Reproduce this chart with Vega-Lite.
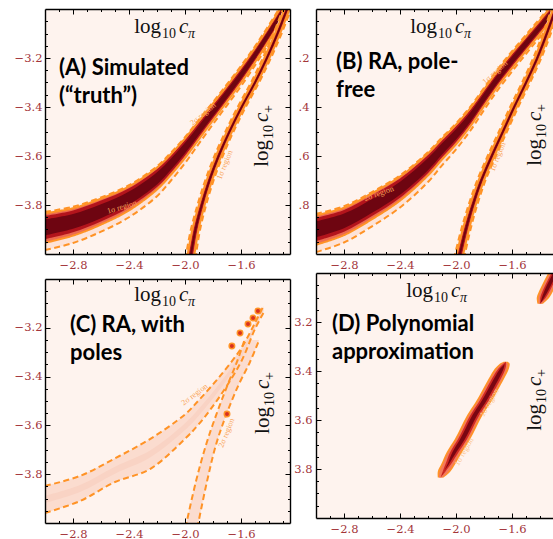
{
"$schema": "https://vega.github.io/schema/vega-lite/v6.json",
"background": "white",
"padding": {"left": 14, "top": 8, "right": 0, "bottom": 0},
"config": {
  "view": {"stroke": null, "fill": "#fef3ee"},
  "axis": {"grid": false, "domainColor": "#000", "domainWidth": 1.4, "tickColor": "#000", "tickWidth": 1, "labelColor": "#a3353a", "labelFont": "DejaVu Serif", "labelFontSize": 11.5, "labelFlush": false, "labelOverlap": false},
  "legend": {"disable": true}
},
"datasets": {
  "one": [{}],
  "api": [
    {"x":-3.0,"hi2":-3.828,"hi1":-3.834,"him":-3.844,"hi0":-3.859,"lo0":-3.924,"lom":-3.939,"lo1":-3.954,"lo2":-3.984},
    {"x":-2.8,"hi2":-3.807,"hi1":-3.813,"him":-3.822,"hi0":-3.837,"lo0":-3.897,"lom":-3.911,"lo1":-3.925,"lo2":-3.955},
    {"x":-2.6,"hi2":-3.769,"hi1":-3.774,"him":-3.782,"hi0":-3.797,"lo0":-3.854,"lom":-3.867,"lo1":-3.880,"lo2":-3.909},
    {"x":-2.4,"hi2":-3.719,"hi1":-3.724,"him":-3.732,"hi0":-3.745,"lo0":-3.798,"lom":-3.810,"lo1":-3.822,"lo2":-3.850},
    {"x":-2.2,"hi2":-3.642,"hi1":-3.647,"him":-3.654,"hi0":-3.666,"lo0":-3.716,"lom":-3.727,"lo1":-3.737,"lo2":-3.764},
    {"x":-2.1,"hi2":-3.586,"hi1":-3.592,"him":-3.599,"hi0":-3.610,"lo0":-3.656,"lom":-3.667,"lo1":-3.676,"lo2":-3.700},
    {"x":-2.0,"hi2":-3.523,"hi1":-3.528,"him":-3.535,"hi0":-3.546,"lo0":-3.589,"lom":-3.599,"lo1":-3.608,"lo2":-3.629},
    {"x":-1.9,"hi2":-3.451,"hi1":-3.457,"him":-3.464,"hi0":-3.474,"lo0":-3.513,"lom":-3.522,"lo1":-3.531,"lo2":-3.549},
    {"x":-1.8,"hi2":-3.380,"hi1":-3.386,"him":-3.392,"hi0":-3.402,"lo0":-3.438,"lom":-3.446,"lo1":-3.454,"lo2":-3.470},
    {"x":-1.7,"hi2":-3.307,"hi1":-3.314,"him":-3.320,"hi0":-3.329,"lo0":-3.363,"lom":-3.371,"lo1":-3.378,"lo2":-3.393},
    {"x":-1.6,"hi2":-3.232,"hi1":-3.239,"him":-3.245,"hi0":-3.254,"lo0":-3.286,"lom":-3.294,"lo1":-3.301,"lo2":-3.315},
    {"x":-1.5,"hi2":-3.152,"hi1":-3.159,"him":-3.165,"hi0":-3.173,"lo0":-3.203,"lom":-3.211,"lo1":-3.217,"lo2":-3.230},
    {"x":-1.4,"hi2":-3.065,"hi1":-3.072,"him":-3.078,"hi0":-3.086,"lo0":-3.114,"lom":-3.122,"lo1":-3.128,"lo2":-3.140},
    {"x":-1.3,"hi2":-2.973,"hi1":-2.980,"him":-2.986,"hi0":-2.994,"lo0":-3.022,"lom":-3.030,"lo1":-3.036,"lo2":-3.048},
    {"x":-1.22,"hi2":-2.899,"hi1":-2.906,"him":-2.912,"hi0":-2.920,"lo0":-2.948,"lom":-2.956,"lo1":-2.962,"lo2":-2.974}
  ],
  "acp": [
    {"y":-4.02,"l2":-1.998,"l1":-1.986,"lm":-1.977,"l0":-1.969,"r0":-1.955,"rm":-1.947,"r1":-1.938,"r2":-1.926},
    {"y":-3.9,"l2":-1.958,"l1":-1.947,"lm":-1.939,"l0":-1.932,"r0":-1.918,"rm":-1.911,"r1":-1.903,"r2":-1.892},
    {"y":-3.8,"l2":-1.911,"l1":-1.900,"lm":-1.893,"l0":-1.886,"r0":-1.874,"rm":-1.867,"r1":-1.860,"r2":-1.849},
    {"y":-3.7,"l2":-1.856,"l1":-1.845,"lm":-1.838,"l0":-1.832,"r0":-1.820,"rm":-1.814,"r1":-1.807,"r2":-1.796},
    {"y":-3.6,"l2":-1.790,"l1":-1.779,"lm":-1.772,"l0":-1.766,"r0":-1.754,"rm":-1.748,"r1":-1.741,"r2":-1.730},
    {"y":-3.5,"l2":-1.711,"l1":-1.700,"lm":-1.694,"l0":-1.688,"r0":-1.676,"rm":-1.670,"r1":-1.664,"r2":-1.653},
    {"y":-3.4,"l2":-1.624,"l1":-1.613,"lm":-1.607,"l0":-1.601,"r0":-1.589,"rm":-1.583,"r1":-1.577,"r2":-1.566},
    {"y":-3.3,"l2":-1.529,"l1":-1.518,"lm":-1.512,"l0":-1.506,"r0":-1.494,"rm":-1.488,"r1":-1.482,"r2":-1.471},
    {"y":-3.2,"l2":-1.444,"l1":-1.433,"lm":-1.427,"l0":-1.421,"r0":-1.409,"rm":-1.403,"r1":-1.397,"r2":-1.386},
    {"y":-3.1,"l2":-1.368,"l1":-1.357,"lm":-1.351,"l0":-1.345,"r0":-1.333,"rm":-1.327,"r1":-1.321,"r2":-1.310},
    {"y":-3.0,"l2":-1.300,"l1":-1.289,"lm":-1.283,"l0":-1.277,"r0":-1.265,"rm":-1.259,"r1":-1.253,"r2":-1.242},
    {"y":-2.94,"l2":-1.259,"l1":-1.248,"lm":-1.242,"l0":-1.236,"r0":-1.224,"rm":-1.218,"r1":-1.212,"r2":-1.201}
  ],
  "bpi": [
    {"x":-3.0,"hi2":-3.836,"hi1":-3.842,"him":-3.852,"hi0":-3.867,"lo0":-3.932,"lom":-3.947,"lo1":-3.962,"lo2":-3.992},
    {"x":-2.8,"hi2":-3.805,"hi1":-3.811,"him":-3.820,"hi0":-3.835,"lo0":-3.895,"lom":-3.909,"lo1":-3.923,"lo2":-3.953},
    {"x":-2.6,"hi2":-3.747,"hi1":-3.752,"him":-3.760,"hi0":-3.775,"lo0":-3.832,"lom":-3.845,"lo1":-3.858,"lo2":-3.887},
    {"x":-2.4,"hi2":-3.679,"hi1":-3.684,"him":-3.692,"hi0":-3.705,"lo0":-3.758,"lom":-3.770,"lo1":-3.782,"lo2":-3.810},
    {"x":-2.2,"hi2":-3.584,"hi1":-3.589,"him":-3.596,"hi0":-3.608,"lo0":-3.658,"lom":-3.669,"lo1":-3.679,"lo2":-3.706},
    {"x":-2.1,"hi2":-3.524,"hi1":-3.530,"him":-3.537,"hi0":-3.548,"lo0":-3.594,"lom":-3.605,"lo1":-3.614,"lo2":-3.638},
    {"x":-2.0,"hi2":-3.467,"hi1":-3.472,"him":-3.479,"hi0":-3.490,"lo0":-3.533,"lom":-3.543,"lo1":-3.552,"lo2":-3.573},
    {"x":-1.9,"hi2":-3.400,"hi1":-3.406,"him":-3.413,"hi0":-3.423,"lo0":-3.462,"lom":-3.471,"lo1":-3.480,"lo2":-3.498},
    {"x":-1.8,"hi2":-3.322,"hi1":-3.328,"him":-3.334,"hi0":-3.344,"lo0":-3.380,"lom":-3.388,"lo1":-3.396,"lo2":-3.412},
    {"x":-1.7,"hi2":-3.243,"hi1":-3.250,"him":-3.256,"hi0":-3.265,"lo0":-3.299,"lom":-3.307,"lo1":-3.314,"lo2":-3.329},
    {"x":-1.6,"hi2":-3.172,"hi1":-3.179,"him":-3.185,"hi0":-3.194,"lo0":-3.226,"lom":-3.234,"lo1":-3.241,"lo2":-3.255},
    {"x":-1.5,"hi2":-3.105,"hi1":-3.112,"him":-3.118,"hi0":-3.126,"lo0":-3.156,"lom":-3.164,"lo1":-3.170,"lo2":-3.183},
    {"x":-1.4,"hi2":-3.038,"hi1":-3.045,"him":-3.051,"hi0":-3.059,"lo0":-3.087,"lom":-3.095,"lo1":-3.101,"lo2":-3.113},
    {"x":-1.3,"hi2":-2.968,"hi1":-2.975,"him":-2.981,"hi0":-2.989,"lo0":-3.017,"lom":-3.025,"lo1":-3.031,"lo2":-3.043},
    {"x":-1.22,"hi2":-2.911,"hi1":-2.918,"him":-2.924,"hi0":-2.932,"lo0":-2.960,"lom":-2.968,"lo1":-2.974,"lo2":-2.986}
  ],
  "bcp": [
    {"y":-4.02,"l2":-2.016,"l1":-2.004,"lm":-1.995,"l0":-1.987,"r0":-1.973,"rm":-1.965,"r1":-1.956,"r2":-1.944},
    {"y":-3.9,"l2":-1.963,"l1":-1.952,"lm":-1.944,"l0":-1.937,"r0":-1.923,"rm":-1.916,"r1":-1.908,"r2":-1.897},
    {"y":-3.8,"l2":-1.911,"l1":-1.900,"lm":-1.893,"l0":-1.886,"r0":-1.874,"rm":-1.867,"r1":-1.860,"r2":-1.849},
    {"y":-3.7,"l2":-1.850,"l1":-1.839,"lm":-1.832,"l0":-1.826,"r0":-1.814,"rm":-1.808,"r1":-1.801,"r2":-1.790},
    {"y":-3.6,"l2":-1.775,"l1":-1.764,"lm":-1.757,"l0":-1.751,"r0":-1.739,"rm":-1.733,"r1":-1.726,"r2":-1.715},
    {"y":-3.5,"l2":-1.694,"l1":-1.683,"lm":-1.677,"l0":-1.671,"r0":-1.659,"rm":-1.653,"r1":-1.647,"r2":-1.636},
    {"y":-3.4,"l2":-1.614,"l1":-1.603,"lm":-1.597,"l0":-1.591,"r0":-1.579,"rm":-1.573,"r1":-1.567,"r2":-1.556},
    {"y":-3.3,"l2":-1.529,"l1":-1.518,"lm":-1.512,"l0":-1.506,"r0":-1.494,"rm":-1.488,"r1":-1.482,"r2":-1.471},
    {"y":-3.2,"l2":-1.449,"l1":-1.438,"lm":-1.432,"l0":-1.426,"r0":-1.414,"rm":-1.408,"r1":-1.402,"r2":-1.391},
    {"y":-3.1,"l2":-1.381,"l1":-1.370,"lm":-1.364,"l0":-1.358,"r0":-1.346,"rm":-1.340,"r1":-1.334,"r2":-1.323},
    {"y":-3.0,"l2":-1.319,"l1":-1.308,"lm":-1.302,"l0":-1.296,"r0":-1.284,"rm":-1.278,"r1":-1.272,"r2":-1.261},
    {"y":-2.94,"l2":-1.284,"l1":-1.273,"lm":-1.267,"l0":-1.261,"r0":-1.249,"rm":-1.243,"r1":-1.237,"r2":-1.226}
  ],
  "cpi": [
    {"x":-3.0,"u":-3.848,"cu":-3.888,"cl":-3.918,"lo":-3.959},
    {"x":-2.75,"u":-3.807,"cu":-3.844,"cl":-3.873,"lo":-3.910},
    {"x":-2.5,"u":-3.735,"cu":-3.769,"cl":-3.798,"lo":-3.832},
    {"x":-2.25,"u":-3.656,"cu":-3.703,"cl":-3.732,"lo":-3.779},
    {"x":-2.0,"u":-3.555,"cu":-3.591,"cl":-3.619,"lo":-3.655},
    {"x":-1.9,"u":-3.496,"cu":-3.531,"cl":-3.559,"lo":-3.594},
    {"x":-1.75,"u":-3.398,"cu":-3.426,"cl":-3.452,"lo":-3.480},
    {"x":-1.6,"u":-3.285,"cu":-3.302,"cl":-3.323,"lo":-3.340},
    {"x":-1.5,"u":-3.180,"cu":-3.186,"cl":-3.199,"lo":-3.205},
    {"x":-1.44,"u":-3.111,"cu":-3.120,"cl":-3.130,"lo":-3.139}
  ],
  "ccp": [
    {"y":-4.02,"l":-1.997,"r":-1.912},
    {"y":-3.83,"l":-1.922,"r":-1.843},
    {"y":-3.68,"l":-1.850,"r":-1.779},
    {"y":-3.56,"l":-1.779,"r":-1.708},
    {"y":-3.44,"l":-1.700,"r":-1.622},
    {"y":-3.34,"l":-1.629,"r":-1.536},
    {"y":-3.25,"l":-1.575,"r":-1.470}
  ],
  "cdots": [
    {"x":-1.700,"y":-3.553},
    {"x":-1.665,"y":-3.275},
    {"x":-1.607,"y":-3.221},
    {"x":-1.550,"y":-3.184},
    {"x":-1.514,"y":-3.160},
    {"x":-1.479,"y":-3.131}
  ],
  "dband": [
    {"y":-3.835,"l1":-2.130,"lp":-2.122,"lm":-2.110,"l0":-2.110,"r0":-2.110,"rm":-2.110,"rp":-2.098,"r1":-2.090},
    {"y":-3.81,"l1":-2.130,"lp":-2.115,"lm":-2.095,"l0":-2.085,"r0":-2.085,"rm":-2.075,"rp":-2.055,"r1":-2.040},
    {"y":-3.78,"l1":-2.105,"lp":-2.093,"lm":-2.075,"l0":-2.060,"r0":-2.050,"rm":-2.035,"rp":-2.017,"r1":-2.005},
    {"y":-3.73,"l1":-2.065,"lp":-2.052,"lm":-2.040,"l0":-2.024,"r0":-1.996,"rm":-1.980,"rp":-1.968,"r1":-1.955},
    {"y":-3.68,"l1":-2.010,"lp":-1.997,"lm":-1.987,"l0":-1.972,"r0":-1.938,"rm":-1.923,"rp":-1.913,"r1":-1.900},
    {"y":-3.63,"l1":-1.965,"lp":-1.952,"lm":-1.942,"l0":-1.927,"r0":-1.893,"rm":-1.878,"rp":-1.868,"r1":-1.855},
    {"y":-3.58,"l1":-1.920,"lp":-1.907,"lm":-1.897,"l0":-1.882,"r0":-1.848,"rm":-1.833,"rp":-1.823,"r1":-1.810},
    {"y":-3.53,"l1":-1.863,"lp":-1.850,"lm":-1.840,"l0":-1.825,"r0":-1.791,"rm":-1.776,"rp":-1.766,"r1":-1.753},
    {"y":-3.48,"l1":-1.813,"lp":-1.800,"lm":-1.790,"l0":-1.775,"r0":-1.741,"rm":-1.726,"rp":-1.716,"r1":-1.703},
    {"y":-3.43,"l1":-1.765,"lp":-1.752,"lm":-1.742,"l0":-1.727,"r0":-1.693,"rm":-1.678,"rp":-1.668,"r1":-1.655},
    {"y":-3.39,"l1":-1.722,"lp":-1.707,"lm":-1.697,"l0":-1.684,"r0":-1.660,"rm":-1.647,"rp":-1.637,"r1":-1.622},
    {"y":-3.37,"l1":-1.687,"lp":-1.672,"lm":-1.662,"l0":-1.652,"r0":-1.652,"rm":-1.642,"rp":-1.632,"r1":-1.617},
    {"y":-3.362,"l1":-1.660,"lp":-1.645,"lm":-1.645,"l0":-1.645,"r0":-1.645,"rm":-1.645,"rp":-1.645,"r1":-1.630}
  ],
  "dtop": [
    {"y":-3.125,"l1":-1.418,"lp":-1.408,"lm":-1.398,"l0":-1.398,"r0":-1.398,"rm":-1.398,"rp":-1.388,"r1":-1.378},
    {"y":-3.10,"l1":-1.423,"lp":-1.410,"lm":-1.398,"l0":-1.386,"r0":-1.370,"rm":-1.358,"rp":-1.346,"r1":-1.333},
    {"y":-3.06,"l1":-1.395,"lp":-1.383,"lm":-1.371,"l0":-1.359,"r0":-1.331,"rm":-1.319,"rp":-1.307,"r1":-1.295},
    {"y":-3.0,"l1":-1.342,"lp":-1.330,"lm":-1.318,"l0":-1.306,"r0":-1.278,"rm":-1.266,"rp":-1.254,"r1":-1.242},
    {"y":-2.96,"l1":-1.310,"lp":-1.298,"lm":-1.286,"l0":-1.274,"r0":-1.246,"rm":-1.234,"rp":-1.222,"r1":-1.210}
  ]
},
"hconcat": [
{"spacing": 7, "vconcat": [
{
  "width": 245, "height": 245,
  "resolve": {"axis": {"x": "independent", "y": "independent"}},
  "layer": [
    {"data": {"name": "api"}, "mark": {"type": "area", "clip": true, "color": "#fde3d8", "interpolate": "catmull-rom"},
     "encoding": {"x": {"field": "x", "type": "quantitative", "scale": {"domain": [-3, -1.25], "nice": false, "zero": false},
                        "axis": {"orient": "bottom", "values": [-2.8, -2.4, -2.0, -1.6], "format": ".1f", "tickSize": -5, "labelPadding": 10, "title": null, "zindex": 1}},
                  "y": {"field": "lo2", "type": "quantitative", "scale": {"domain": [-4, -3], "nice": false, "zero": false},
                        "axis": {"orient": "left", "values": [-3.8, -3.6, -3.4, -3.2], "format": ".1f", "tickSize": -5, "labelPadding": 8, "title": null, "zindex": 1}},
                  "y2": {"field": "hi2"}}},
    {"data": {"name": "api"}, "mark": {"type": "area", "clip": true, "color": "#ec6a50", "interpolate": "catmull-rom"},
     "encoding": {"x": {"field": "x", "type": "quantitative", "axis": {"orient": "bottom", "values": [-2.9,-2.7,-2.6,-2.5,-2.3,-2.2,-2.1,-1.9,-1.8,-1.7,-1.5,-1.4,-1.3], "tickSize": -2.5, "labels": false, "domain": false, "title": null, "zindex": 1}},
                  "y": {"field": "lo1", "type": "quantitative", "axis": {"orient": "left", "values": [-3.95,-3.9,-3.85,-3.75,-3.7,-3.65,-3.55,-3.5,-3.45,-3.35,-3.3,-3.25,-3.15,-3.1,-3.05], "tickSize": -2.5, "labels": false, "domain": false, "title": null, "zindex": 1}},
                  "y2": {"field": "hi1"}}},
    {"data": {"name": "api"}, "mark": {"type": "area", "clip": true, "color": "#b3141c", "interpolate": "catmull-rom"},
     "encoding": {"x": {"field": "x", "type": "quantitative", "axis": {"orient": "top", "values": [-2.8, -2.4, -2.0, -1.6], "tickSize": -5, "labels": false, "title": null, "zindex": 1}},
                  "y": {"field": "lom", "type": "quantitative", "axis": {"orient": "right", "values": [-3.8, -3.6, -3.4, -3.2], "tickSize": -5, "labels": false, "title": null, "zindex": 1}},
                  "y2": {"field": "him"}}},
    {"data": {"name": "api"}, "mark": {"type": "area", "clip": true, "color": "#6e0511", "interpolate": "catmull-rom"},
     "encoding": {"x": {"field": "x", "type": "quantitative", "axis": {"orient": "top", "values": [-2.9,-2.7,-2.6,-2.5,-2.3,-2.2,-2.1,-1.9,-1.8,-1.7,-1.5,-1.4,-1.3], "tickSize": -2.5, "labels": false, "domain": false, "title": null, "zindex": 1}},
                  "y": {"field": "lo0", "type": "quantitative", "axis": {"orient": "right", "values": [-3.95,-3.9,-3.85,-3.75,-3.7,-3.65,-3.55,-3.5,-3.45,-3.35,-3.3,-3.25,-3.15,-3.1,-3.05], "tickSize": -2.5, "labels": false, "domain": false, "title": null, "zindex": 1}},
                  "y2": {"field": "hi0"}}},
    {"data": {"name": "api"}, "transform": [{"fold": ["hi2", "lo2", "hi1", "lo1"], "as": ["edge", "v"]}],
     "mark": {"type": "line", "clip": true, "color": "#ff9326", "strokeWidth": 2, "interpolate": "catmull-rom"},
     "encoding": {"x": {"field": "x", "type": "quantitative", "axis": null}, "y": {"field": "v", "type": "quantitative", "axis": null}, "detail": {"field": "edge"},
                  "strokeDash": {"field": "edge", "type": "nominal", "scale": {"domain": ["hi2","lo2","hi1","lo1","l2","r2","l1","r1"], "range": [[6,3.5],[6,3.5],[1,0],[1,0],[6,3.5],[6,3.5],[1,0],[1,0]]}, "legend": null}}},
    {"data": {"name": "acp"}, "mark": {"type": "area", "orient": "horizontal", "clip": true, "color": "#fde3d8", "interpolate": "catmull-rom"},
     "encoding": {"y": {"field": "y", "type": "quantitative", "axis": null}, "x": {"field": "l2", "type": "quantitative", "axis": null}, "x2": {"field": "r2"}}},
    {"data": {"name": "acp"}, "mark": {"type": "area", "orient": "horizontal", "clip": true, "color": "#ec6a50", "interpolate": "catmull-rom"},
     "encoding": {"y": {"field": "y", "type": "quantitative", "axis": null}, "x": {"field": "l1", "type": "quantitative", "axis": null}, "x2": {"field": "r1"}}},
    {"data": {"name": "acp"}, "mark": {"type": "area", "orient": "horizontal", "clip": true, "color": "#b3141c", "interpolate": "catmull-rom"},
     "encoding": {"y": {"field": "y", "type": "quantitative", "axis": null}, "x": {"field": "lm", "type": "quantitative", "axis": null}, "x2": {"field": "rm"}}},
    {"data": {"name": "acp"}, "mark": {"type": "area", "orient": "horizontal", "clip": true, "color": "#6e0511", "interpolate": "catmull-rom"},
     "encoding": {"y": {"field": "y", "type": "quantitative", "axis": null}, "x": {"field": "l0", "type": "quantitative", "axis": null}, "x2": {"field": "r0"}}},
    {"data": {"name": "acp"}, "transform": [{"fold": ["l2", "r2", "l1", "r1"], "as": ["edge", "v"]}],
     "mark": {"type": "line", "clip": true, "color": "#ff9326", "strokeWidth": 2, "interpolate": "catmull-rom"},
     "encoding": {"y": {"field": "y", "type": "quantitative", "axis": null}, "x": {"field": "v", "type": "quantitative", "axis": null}, "order": {"field": "y", "type": "quantitative"}, "detail": {"field": "edge"},
                  "strokeDash": {"field": "edge", "type": "nominal", "scale": {"domain": ["hi2","lo2","hi1","lo1","l2","r2","l1","r1"], "range": [[6,3.5],[6,3.5],[1,0],[1,0],[6,3.5],[6,3.5],[1,0],[1,0]]}, "legend": null}}},
    {"data": {"name": "one"}, "mark": {"type": "text", "text": "1σ region", "font": "Liberation Serif", "fontSize": 8, "angle": 343, "color": "#f9a55a", "align": "center", "baseline": "middle"},
     "encoding": {"x": {"datum": -2.45, "axis": null}, "y": {"datum": -3.81, "axis": null}}},
    {"data": {"name": "one"}, "mark": {"type": "text", "text": "2σ region", "font": "Liberation Serif", "fontSize": 8, "angle": 320, "color": "#f9a55a", "align": "center", "baseline": "middle"},
     "encoding": {"x": {"datum": -1.87, "axis": null}, "y": {"datum": -3.43, "axis": null}}},
    {"data": {"name": "one"}, "mark": {"type": "text", "text": "1σ region", "font": "Liberation Serif", "fontSize": 8, "angle": 292, "color": "#f9a55a", "align": "center", "baseline": "middle"},
     "encoding": {"x": {"datum": -1.714, "axis": null}, "y": {"datum": -3.637, "axis": null}}},
    {"data": {"name": "one"}, "mark": {"type": "text", "text": ["(A) Simulated", "(“truth”)"], "font": "Lato", "fontWeight": "bold", "fontSize": 22, "lineHeight": 28, "align": "left", "baseline": "alphabetic", "color": "#000"},
     "encoding": {"x": {"datum": -2.9, "axis": null}, "y": {"datum": -3.269, "axis": null}}},
    {"data": {"name": "one"}, "mark": {"type": "text", "text": "log", "font": "Liberation Serif", "fontSize": 21, "align": "right", "baseline": "alphabetic", "dx": -18, "color": "#111"},
     "encoding": {"x": {"datum": -2.043, "axis": null}, "y": {"datum": -3.098, "axis": null}}},
    {"data": {"name": "one"}, "mark": {"type": "text", "text": "10", "font": "Liberation Serif", "fontSize": 14, "align": "right", "baseline": "alphabetic", "dx": -3, "dy": 5, "color": "#111"},
     "encoding": {"x": {"datum": -2.043, "axis": null}, "y": {"datum": -3.098, "axis": null}}},
    {"data": {"name": "one"}, "mark": {"type": "text", "text": "c", "font": "Liberation Serif", "fontStyle": "italic", "fontSize": 21, "align": "left", "baseline": "alphabetic", "color": "#111"},
     "encoding": {"x": {"datum": -2.043, "axis": null}, "y": {"datum": -3.098, "axis": null}}},
    {"data": {"name": "one"}, "mark": {"type": "text", "text": "π", "font": "Liberation Serif", "fontStyle": "italic", "fontSize": 14, "align": "left", "baseline": "alphabetic", "dx": 9, "dy": 5, "color": "#111"},
     "encoding": {"x": {"datum": -2.043, "axis": null}, "y": {"datum": -3.098, "axis": null}}},
    {"data": {"name": "one"}, "mark": {"type": "text", "text": "log", "font": "Liberation Serif", "fontSize": 21, "align": "right", "baseline": "alphabetic", "angle": 270, "dx": -18, "color": "#111"},
     "encoding": {"x": {"datum": -1.408, "axis": null}, "y": {"datum": -3.461, "axis": null}}},
    {"data": {"name": "one"}, "mark": {"type": "text", "text": "10", "font": "Liberation Serif", "fontSize": 14, "align": "right", "baseline": "alphabetic", "angle": 270, "dx": -3, "dy": 5, "color": "#111"},
     "encoding": {"x": {"datum": -1.408, "axis": null}, "y": {"datum": -3.461, "axis": null}}},
    {"data": {"name": "one"}, "mark": {"type": "text", "text": "c", "font": "Liberation Serif", "fontStyle": "italic", "fontSize": 21, "align": "left", "baseline": "alphabetic", "angle": 270, "color": "#111"},
     "encoding": {"x": {"datum": -1.408, "axis": null}, "y": {"datum": -3.461, "axis": null}}},
    {"data": {"name": "one"}, "mark": {"type": "text", "text": "+", "font": "Liberation Serif", "fontSize": 14, "align": "left", "baseline": "alphabetic", "angle": 270, "dx": 9, "dy": 5, "color": "#111"},
     "encoding": {"x": {"datum": -1.408, "axis": null}, "y": {"datum": -3.461, "axis": null}}}
  ]
},
{
  "width": 245, "height": 244,
  "resolve": {"axis": {"x": "independent", "y": "independent"}},
  "layer": [
    {"data": {"name": "cpi"}, "mark": {"type": "area", "clip": true, "color": "#fbdccf", "interpolate": "catmull-rom"},
     "encoding": {"x": {"field": "x", "type": "quantitative", "scale": {"domain": [-3, -1.25], "nice": false, "zero": false},
                        "axis": {"orient": "bottom", "values": [-2.8, -2.4, -2.0, -1.6], "format": ".1f", "tickSize": -5, "labelPadding": 10, "title": null, "zindex": 1}},
                  "y": {"field": "lo", "type": "quantitative", "scale": {"domain": [-4, -3], "nice": false, "zero": false},
                        "axis": {"orient": "left", "values": [-3.8, -3.6, -3.4, -3.2], "format": ".1f", "tickSize": -5, "labelPadding": 8, "title": null, "zindex": 1}},
                  "y2": {"field": "u"}}},
    {"data": {"name": "ccp"}, "mark": {"type": "area", "orient": "horizontal", "clip": true, "color": "#fbdccf", "interpolate": "catmull-rom"},
     "encoding": {"y": {"field": "y", "type": "quantitative", "axis": {"orient": "left", "values": [-3.95,-3.9,-3.85,-3.75,-3.7,-3.65,-3.55,-3.5,-3.45,-3.35,-3.3,-3.25,-3.15,-3.1,-3.05], "tickSize": -2.5, "labels": false, "domain": false, "title": null, "zindex": 1}},
                  "x": {"field": "l", "type": "quantitative", "axis": {"orient": "bottom", "values": [-2.9,-2.7,-2.6,-2.5,-2.3,-2.2,-2.1,-1.9,-1.8,-1.7,-1.5,-1.4,-1.3], "tickSize": -2.5, "labels": false, "domain": false, "title": null, "zindex": 1}},
                  "x2": {"field": "r"}}},
    {"data": {"name": "cpi"}, "mark": {"type": "area", "clip": true, "color": "#f9d3c4", "interpolate": "catmull-rom"},
     "encoding": {"x": {"field": "x", "type": "quantitative", "axis": null}, "y": {"field": "cl", "type": "quantitative", "axis": null}, "y2": {"field": "cu"}}},
    {"data": {"name": "cpi"}, "transform": [{"fold": ["u", "lo"], "as": ["edge", "v"]}],
     "mark": {"type": "line", "clip": true, "color": "#ff9326", "strokeWidth": 2, "strokeDash": [6, 3.5], "interpolate": "catmull-rom"},
     "encoding": {"x": {"field": "x", "type": "quantitative", "axis": {"orient": "top", "values": [-2.8, -2.4, -2.0, -1.6], "tickSize": -5, "labels": false, "title": null, "zindex": 1}},
                  "y": {"field": "v", "type": "quantitative", "axis": {"orient": "right", "values": [-3.8, -3.6, -3.4, -3.2], "tickSize": -5, "labels": false, "title": null, "zindex": 1}},
                  "detail": {"field": "edge"}}},
    {"data": {"name": "ccp"}, "transform": [{"fold": ["l", "r"], "as": ["edge", "v"]}],
     "mark": {"type": "line", "clip": true, "color": "#ff9326", "strokeWidth": 2, "strokeDash": [6, 3.5], "interpolate": "catmull-rom"},
     "encoding": {"y": {"field": "y", "type": "quantitative", "axis": {"orient": "right", "values": [-3.95,-3.9,-3.85,-3.75,-3.7,-3.65,-3.55,-3.5,-3.45,-3.35,-3.3,-3.25,-3.15,-3.1,-3.05], "tickSize": -2.5, "labels": false, "domain": false, "title": null, "zindex": 1}},
                  "x": {"field": "v", "type": "quantitative", "axis": {"orient": "top", "values": [-2.9,-2.7,-2.6,-2.5,-2.3,-2.2,-2.1,-1.9,-1.8,-1.7,-1.5,-1.4,-1.3], "tickSize": -2.5, "labels": false, "domain": false, "title": null, "zindex": 1}},
                  "order": {"field": "y", "type": "quantitative"}, "detail": {"field": "edge"}}},
    {"data": {"name": "cdots"}, "mark": {"type": "circle", "clip": true, "size": 30, "color": "#d8301f", "opacity": 1, "stroke": "#ff9326", "strokeWidth": 1.5},
     "encoding": {"x": {"field": "x", "type": "quantitative", "axis": null}, "y": {"field": "y", "type": "quantitative", "axis": null}}},
    {"data": {"name": "one"}, "mark": {"type": "text", "text": "2σ region", "font": "Liberation Serif", "fontSize": 8, "angle": 323, "color": "#f9a55a", "align": "center", "baseline": "middle"},
     "encoding": {"x": {"datum": -1.93, "axis": null}, "y": {"datum": -3.475, "axis": null}}},
    {"data": {"name": "one"}, "mark": {"type": "text", "text": "2σ region", "font": "Liberation Serif", "fontSize": 8, "angle": 292, "color": "#f9a55a", "align": "center", "baseline": "middle"},
     "encoding": {"x": {"datum": -1.70, "axis": null}, "y": {"datum": -3.631, "axis": null}}},
    {"data": {"name": "one"}, "mark": {"type": "text", "text": ["(C) RA, with", "poles"], "font": "Lato", "fontWeight": "bold", "fontSize": 22, "lineHeight": 28, "align": "left", "baseline": "alphabetic", "color": "#000"},
     "encoding": {"x": {"datum": -2.821, "axis": null}, "y": {"datum": -3.217, "axis": null}}},
    {"data": {"name": "one"}, "mark": {"type": "text", "text": "log", "font": "Liberation Serif", "fontSize": 21, "align": "right", "baseline": "alphabetic", "dx": -18, "color": "#111"},
     "encoding": {"x": {"datum": -2.043, "axis": null}, "y": {"datum": -3.09, "axis": null}}},
    {"data": {"name": "one"}, "mark": {"type": "text", "text": "10", "font": "Liberation Serif", "fontSize": 14, "align": "right", "baseline": "alphabetic", "dx": -3, "dy": 5, "color": "#111"},
     "encoding": {"x": {"datum": -2.043, "axis": null}, "y": {"datum": -3.09, "axis": null}}},
    {"data": {"name": "one"}, "mark": {"type": "text", "text": "c", "font": "Liberation Serif", "fontStyle": "italic", "fontSize": 21, "align": "left", "baseline": "alphabetic", "color": "#111"},
     "encoding": {"x": {"datum": -2.043, "axis": null}, "y": {"datum": -3.09, "axis": null}}},
    {"data": {"name": "one"}, "mark": {"type": "text", "text": "π", "font": "Liberation Serif", "fontStyle": "italic", "fontSize": 14, "align": "left", "baseline": "alphabetic", "dx": 9, "dy": 5, "color": "#111"},
     "encoding": {"x": {"datum": -2.043, "axis": null}, "y": {"datum": -3.09, "axis": null}}},
    {"data": {"name": "one"}, "mark": {"type": "text", "text": "log", "font": "Liberation Serif", "fontSize": 21, "align": "right", "baseline": "alphabetic", "angle": 270, "dx": -18, "color": "#111"},
     "encoding": {"x": {"datum": -1.40, "axis": null}, "y": {"datum": -3.451, "axis": null}}},
    {"data": {"name": "one"}, "mark": {"type": "text", "text": "10", "font": "Liberation Serif", "fontSize": 14, "align": "right", "baseline": "alphabetic", "angle": 270, "dx": -3, "dy": 5, "color": "#111"},
     "encoding": {"x": {"datum": -1.40, "axis": null}, "y": {"datum": -3.451, "axis": null}}},
    {"data": {"name": "one"}, "mark": {"type": "text", "text": "c", "font": "Liberation Serif", "fontStyle": "italic", "fontSize": 21, "align": "left", "baseline": "alphabetic", "angle": 270, "color": "#111"},
     "encoding": {"x": {"datum": -1.40, "axis": null}, "y": {"datum": -3.451, "axis": null}}},
    {"data": {"name": "one"}, "mark": {"type": "text", "text": "+", "font": "Liberation Serif", "fontSize": 14, "align": "left", "baseline": "alphabetic", "angle": 270, "dx": 9, "dy": 5, "color": "#111"},
     "encoding": {"x": {"datum": -1.40, "axis": null}, "y": {"datum": -3.451, "axis": null}}}
  ]
}
]},
{"spacing": 1, "vconcat": [
{
  "width": 243, "height": 245,
  "resolve": {"axis": {"x": "independent", "y": "independent"}},
  "layer": [
    {"data": {"name": "bpi"}, "mark": {"type": "area", "clip": true, "color": "#fde3d8", "interpolate": "catmull-rom"},
     "encoding": {"x": {"field": "x", "type": "quantitative", "scale": {"domain": [-3, -1.265], "nice": false, "zero": false},
                        "axis": {"orient": "bottom", "values": [-2.8, -2.4, -2.0, -1.6], "format": ".1f", "tickSize": -5, "labelPadding": 10, "title": null, "zindex": 1}},
                  "y": {"field": "lo2", "type": "quantitative", "scale": {"domain": [-4, -3], "nice": false, "zero": false},
                        "axis": {"orient": "left", "values": [-3.8, -3.6, -3.4, -3.2], "format": ".1f", "labelExpr": "slice(datum.label, -2)", "tickSize": -5, "labelPadding": 12, "title": null, "zindex": 1}},
                  "y2": {"field": "hi2"}}},
    {"data": {"name": "bpi"}, "mark": {"type": "area", "clip": true, "color": "#ec6a50", "interpolate": "catmull-rom"},
     "encoding": {"x": {"field": "x", "type": "quantitative", "axis": {"orient": "bottom", "values": [-2.9,-2.7,-2.6,-2.5,-2.3,-2.2,-2.1,-1.9,-1.8,-1.7,-1.5,-1.4,-1.3], "tickSize": -2.5, "labels": false, "domain": false, "title": null, "zindex": 1}},
                  "y": {"field": "lo1", "type": "quantitative", "axis": {"orient": "left", "values": [-3.95,-3.9,-3.85,-3.75,-3.7,-3.65,-3.55,-3.5,-3.45,-3.35,-3.3,-3.25,-3.15,-3.1,-3.05], "tickSize": -2.5, "labels": false, "domain": false, "title": null, "zindex": 1}},
                  "y2": {"field": "hi1"}}},
    {"data": {"name": "bpi"}, "mark": {"type": "area", "clip": true, "color": "#b3141c", "interpolate": "catmull-rom"},
     "encoding": {"x": {"field": "x", "type": "quantitative", "axis": {"orient": "top", "values": [-2.8, -2.4, -2.0, -1.6], "tickSize": -5, "labels": false, "title": null, "zindex": 1}},
                  "y": {"field": "lom", "type": "quantitative", "axis": null},
                  "y2": {"field": "him"}}},
    {"data": {"name": "bpi"}, "mark": {"type": "area", "clip": true, "color": "#6e0511", "interpolate": "catmull-rom"},
     "encoding": {"x": {"field": "x", "type": "quantitative", "axis": {"orient": "top", "values": [-2.9,-2.7,-2.6,-2.5,-2.3,-2.2,-2.1,-1.9,-1.8,-1.7,-1.5,-1.4,-1.3], "tickSize": -2.5, "labels": false, "domain": false, "title": null, "zindex": 1}},
                  "y": {"field": "lo0", "type": "quantitative", "axis": null},
                  "y2": {"field": "hi0"}}},
    {"data": {"name": "bpi"}, "transform": [{"fold": ["hi2", "lo2", "hi1", "lo1"], "as": ["edge", "v"]}],
     "mark": {"type": "line", "clip": true, "color": "#ff9326", "strokeWidth": 2, "interpolate": "catmull-rom"},
     "encoding": {"x": {"field": "x", "type": "quantitative", "axis": null}, "y": {"field": "v", "type": "quantitative", "axis": null}, "detail": {"field": "edge"},
                  "strokeDash": {"field": "edge", "type": "nominal", "scale": {"domain": ["hi2","lo2","hi1","lo1","l2","r2","l1","r1"], "range": [[6,3.5],[6,3.5],[1,0],[1,0],[6,3.5],[6,3.5],[1,0],[1,0]]}, "legend": null}}},
    {"data": {"name": "bcp"}, "mark": {"type": "area", "orient": "horizontal", "clip": true, "color": "#fde3d8", "interpolate": "catmull-rom"},
     "encoding": {"y": {"field": "y", "type": "quantitative", "axis": null}, "x": {"field": "l2", "type": "quantitative", "axis": null}, "x2": {"field": "r2"}}},
    {"data": {"name": "bcp"}, "mark": {"type": "area", "orient": "horizontal", "clip": true, "color": "#ec6a50", "interpolate": "catmull-rom"},
     "encoding": {"y": {"field": "y", "type": "quantitative", "axis": null}, "x": {"field": "l1", "type": "quantitative", "axis": null}, "x2": {"field": "r1"}}},
    {"data": {"name": "bcp"}, "mark": {"type": "area", "orient": "horizontal", "clip": true, "color": "#b3141c", "interpolate": "catmull-rom"},
     "encoding": {"y": {"field": "y", "type": "quantitative", "axis": null}, "x": {"field": "lm", "type": "quantitative", "axis": null}, "x2": {"field": "rm"}}},
    {"data": {"name": "bcp"}, "mark": {"type": "area", "orient": "horizontal", "clip": true, "color": "#6e0511", "interpolate": "catmull-rom"},
     "encoding": {"y": {"field": "y", "type": "quantitative", "axis": null}, "x": {"field": "l0", "type": "quantitative", "axis": null}, "x2": {"field": "r0"}}},
    {"data": {"name": "bcp"}, "transform": [{"fold": ["l2", "r2", "l1", "r1"], "as": ["edge", "v"]}],
     "mark": {"type": "line", "clip": true, "color": "#ff9326", "strokeWidth": 2, "interpolate": "catmull-rom"},
     "encoding": {"y": {"field": "y", "type": "quantitative", "axis": null}, "x": {"field": "v", "type": "quantitative", "axis": null}, "order": {"field": "y", "type": "quantitative"}, "detail": {"field": "edge"},
                  "strokeDash": {"field": "edge", "type": "nominal", "scale": {"domain": ["hi2","lo2","hi1","lo1","l2","r2","l1","r1"], "range": [[6,3.5],[6,3.5],[1,0],[1,0],[6,3.5],[6,3.5],[1,0],[1,0]]}, "legend": null}}},
    {"data": {"name": "one"}, "mark": {"type": "text", "text": "2σ region", "font": "Liberation Serif", "fontSize": 8, "angle": 340, "color": "#f9a55a", "align": "center", "baseline": "middle"},
     "encoding": {"x": {"datum": -2.55, "axis": null}, "y": {"datum": -3.755, "axis": null}}},
    {"data": {"name": "one"}, "mark": {"type": "text", "text": "1σ region", "font": "Liberation Serif", "fontSize": 8, "angle": 318, "color": "#f9a55a", "align": "center", "baseline": "middle"},
     "encoding": {"x": {"datum": -1.72, "axis": null}, "y": {"datum": -3.26, "axis": null}}},
    {"data": {"name": "one"}, "mark": {"type": "text", "text": "1σ region", "font": "Liberation Serif", "fontSize": 8, "angle": 292, "color": "#f9a55a", "align": "center", "baseline": "middle"},
     "encoding": {"x": {"datum": -1.70, "axis": null}, "y": {"datum": -3.604, "axis": null}}},
    {"data": {"name": "one"}, "mark": {"type": "text", "text": ["(B) RA, pole-", "free"], "font": "Lato", "fontWeight": "bold", "fontSize": 22, "lineHeight": 28, "align": "left", "baseline": "alphabetic", "color": "#000"},
     "encoding": {"x": {"datum": -2.857, "axis": null}, "y": {"datum": -3.245, "axis": null}}},
    {"data": {"name": "one"}, "mark": {"type": "text", "text": "log", "font": "Liberation Serif", "fontSize": 21, "align": "right", "baseline": "alphabetic", "dx": -18, "color": "#111"},
     "encoding": {"x": {"datum": -2.007, "axis": null}, "y": {"datum": -3.098, "axis": null}}},
    {"data": {"name": "one"}, "mark": {"type": "text", "text": "10", "font": "Liberation Serif", "fontSize": 14, "align": "right", "baseline": "alphabetic", "dx": -3, "dy": 5, "color": "#111"},
     "encoding": {"x": {"datum": -2.007, "axis": null}, "y": {"datum": -3.098, "axis": null}}},
    {"data": {"name": "one"}, "mark": {"type": "text", "text": "c", "font": "Liberation Serif", "fontStyle": "italic", "fontSize": 21, "align": "left", "baseline": "alphabetic", "color": "#111"},
     "encoding": {"x": {"datum": -2.007, "axis": null}, "y": {"datum": -3.098, "axis": null}}},
    {"data": {"name": "one"}, "mark": {"type": "text", "text": "π", "font": "Liberation Serif", "fontStyle": "italic", "fontSize": 14, "align": "left", "baseline": "alphabetic", "dx": 9, "dy": 5, "color": "#111"},
     "encoding": {"x": {"datum": -2.007, "axis": null}, "y": {"datum": -3.098, "axis": null}}},
    {"data": {"name": "one"}, "mark": {"type": "text", "text": "log", "font": "Liberation Serif", "fontSize": 21, "align": "right", "baseline": "alphabetic", "angle": 270, "dx": -18, "color": "#111"},
     "encoding": {"x": {"datum": -1.393, "axis": null}, "y": {"datum": -3.457, "axis": null}}},
    {"data": {"name": "one"}, "mark": {"type": "text", "text": "10", "font": "Liberation Serif", "fontSize": 14, "align": "right", "baseline": "alphabetic", "angle": 270, "dx": -3, "dy": 5, "color": "#111"},
     "encoding": {"x": {"datum": -1.393, "axis": null}, "y": {"datum": -3.457, "axis": null}}},
    {"data": {"name": "one"}, "mark": {"type": "text", "text": "c", "font": "Liberation Serif", "fontStyle": "italic", "fontSize": 21, "align": "left", "baseline": "alphabetic", "angle": 270, "color": "#111"},
     "encoding": {"x": {"datum": -1.393, "axis": null}, "y": {"datum": -3.457, "axis": null}}},
    {"data": {"name": "one"}, "mark": {"type": "text", "text": "+", "font": "Liberation Serif", "fontSize": 14, "align": "left", "baseline": "alphabetic", "angle": 270, "dx": 9, "dy": 5, "color": "#111"},
     "encoding": {"x": {"datum": -1.393, "axis": null}, "y": {"datum": -3.457, "axis": null}}}
  ]
},
{
  "width": 239, "height": 245,
  "resolve": {"axis": {"x": "independent", "y": "independent"}},
  "layer": [
    {"data": {"name": "dband"}, "mark": {"type": "area", "orient": "horizontal", "clip": true, "color": "#ff9326", "interpolate": "catmull-rom"},
     "encoding": {"x": {"field": "l1", "type": "quantitative", "scale": {"domain": [-3, -1.293], "nice": false, "zero": false},
                        "axis": {"orient": "bottom", "values": [-2.8, -2.4, -2.0, -1.6], "format": ".1f", "tickSize": -5, "labelPadding": 10, "title": null, "zindex": 1}},
                  "x2": {"field": "r1"},
                  "y": {"field": "y", "type": "quantitative", "scale": {"domain": [-4, -3], "nice": false, "zero": false},
                        "axis": {"orient": "left", "values": [-3.8, -3.6, -3.4, -3.2], "format": ".1f", "labelExpr": "slice(datum.label, -3)", "tickSize": -5, "labelPadding": 9, "title": null, "zindex": 1}}}},
    {"data": {"name": "dband"}, "mark": {"type": "area", "orient": "horizontal", "clip": true, "color": "#f4795c", "interpolate": "catmull-rom"},
     "encoding": {"x": {"field": "lp", "type": "quantitative", "axis": {"orient": "bottom", "values": [-2.9,-2.7,-2.6,-2.5,-2.3,-2.2,-2.1,-1.9,-1.8,-1.7,-1.5,-1.4,-1.3], "tickSize": -2.5, "labels": false, "domain": false, "title": null, "zindex": 1}},
                  "x2": {"field": "rp"},
                  "y": {"field": "y", "type": "quantitative", "axis": {"orient": "left", "values": [-3.95,-3.9,-3.85,-3.75,-3.7,-3.65,-3.55,-3.5,-3.45,-3.35,-3.3,-3.25,-3.15,-3.1,-3.05], "tickSize": -2.5, "labels": false, "domain": false, "title": null, "zindex": 1}}}},
    {"data": {"name": "dband"}, "mark": {"type": "area", "orient": "horizontal", "clip": true, "color": "#cf2a22", "interpolate": "catmull-rom"},
     "encoding": {"x": {"field": "lm", "type": "quantitative", "axis": {"orient": "top", "values": [-2.8, -2.4, -2.0, -1.6], "tickSize": -5, "labels": false, "title": null, "zindex": 1}},
                  "x2": {"field": "rm"},
                  "y": {"field": "y", "type": "quantitative", "axis": null}}},
    {"data": {"name": "dband"}, "mark": {"type": "area", "orient": "horizontal", "clip": true, "color": "#7a0612", "interpolate": "catmull-rom"},
     "encoding": {"x": {"field": "l0", "type": "quantitative", "axis": {"orient": "top", "values": [-2.9,-2.7,-2.6,-2.5,-2.3,-2.2,-2.1,-1.9,-1.8,-1.7,-1.5,-1.4,-1.3], "tickSize": -2.5, "labels": false, "domain": false, "title": null, "zindex": 1}},
                  "x2": {"field": "r0"},
                  "y": {"field": "y", "type": "quantitative", "axis": null}}},
    {"data": {"name": "dtop"}, "mark": {"type": "area", "orient": "horizontal", "clip": true, "color": "#ff9326", "interpolate": "catmull-rom"},
     "encoding": {"x": {"field": "l1", "type": "quantitative", "axis": null}, "x2": {"field": "r1"}, "y": {"field": "y", "type": "quantitative", "axis": null}}},
    {"data": {"name": "dtop"}, "mark": {"type": "area", "orient": "horizontal", "clip": true, "color": "#f4795c", "interpolate": "catmull-rom"},
     "encoding": {"x": {"field": "lp", "type": "quantitative", "axis": null}, "x2": {"field": "rp"}, "y": {"field": "y", "type": "quantitative", "axis": null}}},
    {"data": {"name": "dtop"}, "mark": {"type": "area", "orient": "horizontal", "clip": true, "color": "#cf2a22", "interpolate": "catmull-rom"},
     "encoding": {"x": {"field": "lm", "type": "quantitative", "axis": null}, "x2": {"field": "rm"}, "y": {"field": "y", "type": "quantitative", "axis": null}}},
    {"data": {"name": "dtop"}, "mark": {"type": "area", "orient": "horizontal", "clip": true, "color": "#7a0612", "interpolate": "catmull-rom"},
     "encoding": {"x": {"field": "l0", "type": "quantitative", "axis": null}, "x2": {"field": "r0"}, "y": {"field": "y", "type": "quantitative", "axis": null}}},
    {"data": {"name": "one"}, "mark": {"type": "text", "text": "1σ region", "font": "Liberation Serif", "fontSize": 8, "angle": 300, "color": "#fbc48a", "align": "center", "baseline": "middle"},
     "encoding": {"x": {"datum": -1.76, "axis": null}, "y": {"datum": -3.53, "axis": null}}},
    {"data": {"name": "one"}, "mark": {"type": "text", "text": "1σ region", "font": "Liberation Serif", "fontSize": 8, "angle": 300, "color": "#fbc48a", "align": "center", "baseline": "middle"},
     "encoding": {"x": {"datum": -1.94, "axis": null}, "y": {"datum": -3.73, "axis": null}}},
    {"data": {"name": "one"}, "mark": {"type": "text", "text": ["(D) Polynomial", "approximation"], "font": "Lato", "fontWeight": "bold", "fontSize": 22, "lineHeight": 28, "align": "left", "baseline": "alphabetic", "color": "#000"},
     "encoding": {"x": {"datum": -2.886, "axis": null}, "y": {"datum": -3.237, "axis": null}}},
    {"data": {"name": "one"}, "mark": {"type": "text", "text": "log", "font": "Liberation Serif", "fontSize": 21, "align": "right", "baseline": "alphabetic", "dx": -18, "color": "#111"},
     "encoding": {"x": {"datum": -2.036, "axis": null}, "y": {"datum": -3.098, "axis": null}}},
    {"data": {"name": "one"}, "mark": {"type": "text", "text": "10", "font": "Liberation Serif", "fontSize": 14, "align": "right", "baseline": "alphabetic", "dx": -3, "dy": 5, "color": "#111"},
     "encoding": {"x": {"datum": -2.036, "axis": null}, "y": {"datum": -3.098, "axis": null}}},
    {"data": {"name": "one"}, "mark": {"type": "text", "text": "c", "font": "Liberation Serif", "fontStyle": "italic", "fontSize": 21, "align": "left", "baseline": "alphabetic", "color": "#111"},
     "encoding": {"x": {"datum": -2.036, "axis": null}, "y": {"datum": -3.098, "axis": null}}},
    {"data": {"name": "one"}, "mark": {"type": "text", "text": "π", "font": "Liberation Serif", "fontStyle": "italic", "fontSize": 14, "align": "left", "baseline": "alphabetic", "dx": 9, "dy": 5, "color": "#111"},
     "encoding": {"x": {"datum": -2.036, "axis": null}, "y": {"datum": -3.098, "axis": null}}},
    {"data": {"name": "one"}, "mark": {"type": "text", "text": "log", "font": "Liberation Serif", "fontSize": 21, "align": "right", "baseline": "alphabetic", "angle": 270, "dx": -18, "color": "#111"},
     "encoding": {"x": {"datum": -1.393, "axis": null}, "y": {"datum": -3.461, "axis": null}}},
    {"data": {"name": "one"}, "mark": {"type": "text", "text": "10", "font": "Liberation Serif", "fontSize": 14, "align": "right", "baseline": "alphabetic", "angle": 270, "dx": -3, "dy": 5, "color": "#111"},
     "encoding": {"x": {"datum": -1.393, "axis": null}, "y": {"datum": -3.461, "axis": null}}},
    {"data": {"name": "one"}, "mark": {"type": "text", "text": "c", "font": "Liberation Serif", "fontStyle": "italic", "fontSize": 21, "align": "left", "baseline": "alphabetic", "angle": 270, "color": "#111"},
     "encoding": {"x": {"datum": -1.393, "axis": null}, "y": {"datum": -3.461, "axis": null}}},
    {"data": {"name": "one"}, "mark": {"type": "text", "text": "+", "font": "Liberation Serif", "fontSize": 14, "align": "left", "baseline": "alphabetic", "angle": 270, "dx": 9, "dy": 5, "color": "#111"},
     "encoding": {"x": {"datum": -1.393, "axis": null}, "y": {"datum": -3.461, "axis": null}}}
  ]
}
]}
],
"spacing": 2
}
